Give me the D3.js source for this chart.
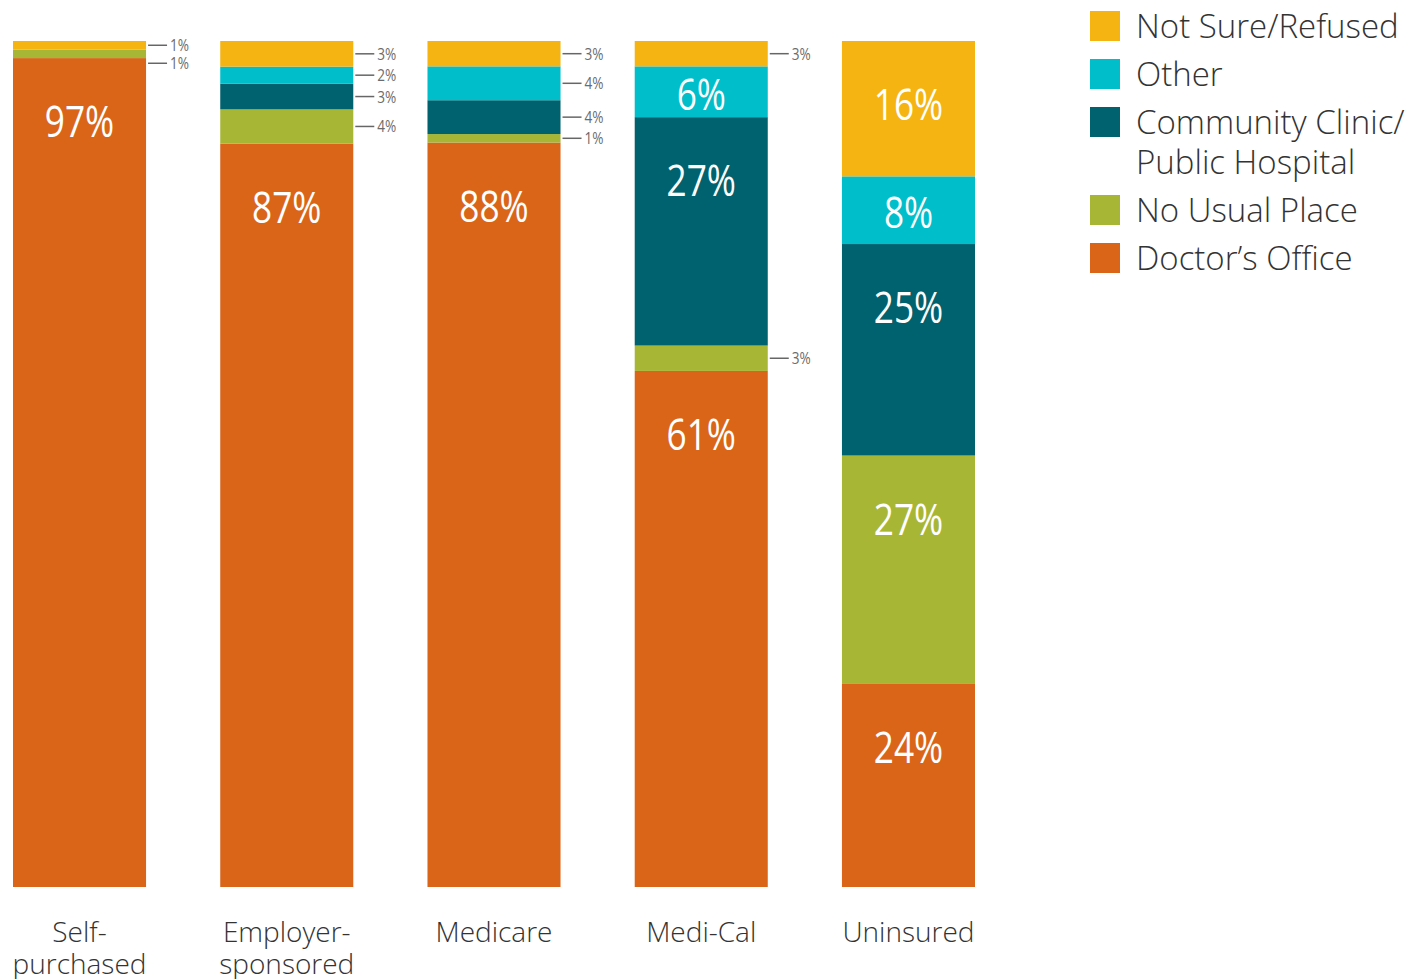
<!DOCTYPE html>
<html>
<head>
<meta charset="utf-8">
<script src="https://cdn.jsdelivr.net/npm/d3@7"></script>
<style>
  html, body { margin: 0; padding: 0; background: #fff; }
  svg { display: block; }
  .cond { font-family: "Open Sans", "Noto Sans", sans-serif; }
  .light { font-family: "Open Sans", "Noto Sans", sans-serif; font-weight: 300; }
</style>
</head>
<body>
<svg id="chart" width="1420" height="979"></svg>
<script>
// Usual source of care by insurance type (percent)
const categories = ["Self-purchased", "Employer-sponsored", "Medicare", "Medi-Cal", "Uninsured"];
const categoryLines = [["Self-", "purchased"], ["Employer-", "sponsored"], ["Medicare"], ["Medi-Cal"], ["Uninsured"]];
const seriesNames = ["Doctor’s Office", "No Usual Place", "Community Clinic/Public Hospital", "Other", "Not Sure/Refused"];
const doctorsOffice   = [97, 87, 88, 61, 24];
const noUsualPlace    = [1, 4, 1, 3, 27];
const communityClinic = [0, 3, 4, 27, 25];
const other           = [0, 2, 4, 6, 8];
const notSure         = [1, 3, 3, 3, 16];
const legendLabels = [["Not Sure/Refused"], ["Other"], ["Community Clinic/", "Public Hospital"], ["No Usual Place"], ["Doctor’s Office"]];
const colors = ["#DA6519", "#A8B636", "#00626E", "#00BECA", "#F5B412"];

const seriesValues = [doctorsOffice, noUsualPlace, communityClinic, other, notSure];
const rows = categories.map((c, i) => {
  const r = { category: c };
  seriesNames.forEach((s, k) => r[s] = seriesValues[k][i]);
  return r;
});

const svg = d3.select("#chart");

const x = d3.scaleBand().domain(categories).range([13, 975]).paddingInner(0.358).paddingOuter(0);
const y = d3.scaleLinear().domain([0, 1]).range([887, 41]);
const color = d3.scaleOrdinal().domain(seriesNames).range(colors);

const stacked = d3.stack().keys(seriesNames).offset(d3.stackOffsetExpand)(rows);

// Bars
const layers = svg.append("g").selectAll("g").data(stacked).join("g")
  .attr("fill", d => color(d.key));
layers.selectAll("rect").data(d => d.map(p => ({ p, key: d.key })))
  .join("rect")
  .attr("x", d => x(d.p.data.category))
  .attr("width", x.bandwidth())
  .attr("y", d => y(d.p[1]))
  .attr("height", d => Math.max(0, y(d.p[0]) - y(d.p[1])));

// Labels: large values inside the bar, small values outside with a leader line
const inside = [], outside = [];
stacked.forEach(layer => {
  layer.forEach(p => {
    const v = p.data[layer.key];
    if (v <= 0) return;
    const top = y(p[1]), bot = y(p[0]), h = bot - top;
    const item = { cat: p.data.category, v, top, bot, h };
    (v >= 5 ? inside : outside).push(item);
  });
});

// Condensed look: horizontally squeezed text
svg.append("g").selectAll("text").data(inside).join("text")
  .attr("class", "cond")
  .attr("transform", d => `translate(${x(d.cat) + x.bandwidth() / 2},${d.top + Math.min(d.h / 2 + 3, 64) + 15}) scale(0.8,1)`)
  .attr("text-anchor", "middle")
  .attr("fill", "#fff")
  .attr("font-size", 44)
  .text(d => d.v + "%");

// Spread small labels so they do not overlap (top to bottom per bar)
const minGap = 18;
categories.forEach(cat => {
  const items = outside.filter(d => d.cat === cat).sort((a, b) => a.top - b.top);
  let prev = -Infinity;
  items.forEach(d => {
    d.ly = Math.max((d.top + d.bot) / 2, prev + minGap);
    prev = d.ly;
  });
});

const ext = svg.append("g").selectAll("g").data(outside).join("g")
  .attr("transform", d => `translate(${x(d.cat) + x.bandwidth()},${d.ly})`);
ext.append("line").attr("x1", 2).attr("x2", 21).attr("stroke", "#666").attr("stroke-width", 1.5);
ext.append("text").attr("class", "cond")
  .attr("transform", "translate(24,6) scale(0.8,1)")
  .attr("font-size", 17).attr("fill", "#6b6b6b")
  .text(d => d.v + "%");

// Category labels
const catG = svg.append("g").selectAll("text").data(categories).join("text")
  .attr("class", "light")
  .attr("x", d => x(d) + x.bandwidth() / 2)
  .attr("y", 942)
  .attr("text-anchor", "middle")
  .attr("font-size", 28)
  .attr("fill", "#333");
catG.selectAll("tspan").data((d, i) => categoryLines[i]).join("tspan")
  .attr("x", function() { return d3.select(this.parentNode).attr("x"); })
  .attr("dy", (d, i) => i === 0 ? 0 : 32)
  .text(d => d);

// Legend
const legendY = [26, 74, 122, 210, 258];
const leg = svg.append("g").selectAll("g").data(legendLabels).join("g")
  .attr("transform", (d, i) => `translate(1090,${legendY[i]})`);
leg.append("rect").attr("x", 0).attr("y", -15).attr("width", 30).attr("height", 30)
  .attr("fill", (d, i) => colors[colors.length - 1 - i]);
const lt = leg.append("text").attr("class", "light")
  .attr("x", 46).attr("y", 12)
  .attr("font-size", 33).attr("fill", "#333");
lt.selectAll("tspan").data(d => d).join("tspan")
  .attr("x", 46).attr("dy", (d, i) => i === 0 ? 0 : 40)
  .text(d => d);
</script>
</body>
</html>
